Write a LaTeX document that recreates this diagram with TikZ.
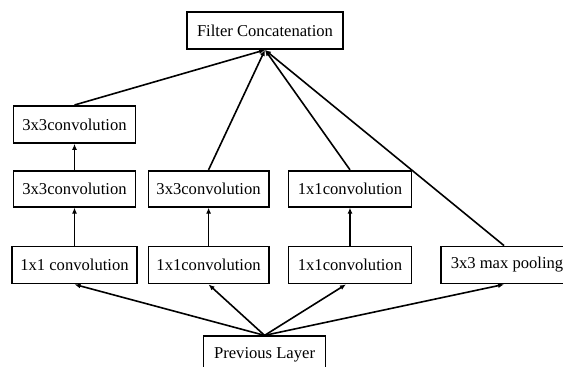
\documentclass[tikz,border=0pt]{standalone}
\usepackage{fontspec}
\setmainfont{Liberation Serif}
\usetikzlibrary{arrows.meta,positioning}

\begin{document}
\begin{tikzpicture}[x=1pt, y=1pt, node distance=10pt,
                    >={Latex[length=6pt,width=5pt]},
                    every node/.append style={align=center},
                    blk/.style={draw, line width=1.8pt, minimum width=122pt, minimum height=37pt,
                                inner xsep=8pt, font=\fontsize{16.6pt}{19pt}\selectfont},
                    con/.style={line width=1.6pt}]
                   \useasboundingbox (0,0) rectangle (563,-367);
                   \clip (0,0) rectangle (563,-367);

                   \node [blk] (c1a) at (74.5,-265) {1x1 convolution};
                   \node [blk, right=10pt of c1a, minimum width=120pt] (c1b) {1x1convolution};
                   \node [blk, right=18pt of c1b, minimum width=123pt] (c1c) {1x1convolution};
                   \node [blk, right=28pt of c1c, inner xsep=9.5pt] (pool) {3x3 max pooling};
                   \node [blk, above=38pt of c1a, minimum height=36pt] (c3b) {3x3convolution};
                   \node [blk, above=26pt of c3b] (c3a) {3x3convolution};
                   \node [blk, above=38pt of c1b, minimum width=120pt, minimum height=36pt] (c3c) {3x3convolution};
                   \node [blk, above=38pt of c1c, minimum width=123pt, minimum height=36pt] (c1d) {1x1convolution};
                   \node [blk, below=51pt of c1b, xshift=56pt] (prev) {Previous Layer};
                   \node [blk, minimum width=156pt] (filter) at (265,-30.5) {Filter Concatenation};

                   \draw[con,->] (prev.north) -- (c1a.south);
                   \draw[con,->] (prev.north) -- (c1b.south);
                   \draw[con,->] (prev.north) -- ([xshift=-4pt]c1c.south);
                   \draw[con,->] (prev.north) -- ([xshift=-3pt]pool.south);

                   \draw[con,->] (c1a) -- (c3b);
                   \draw[con,->] (c3b) -- (c3a);
                   \draw[con,->] (c1b) -- (c3c);
                   \draw[con,->] (c1c) -- (c1d);

                   % outputs into the concatenation
                   \draw[con,->] (c3a.north) -- (filter.south);
                   \draw[con,->] (c3c.north) -- (filter.south);
                   \draw[con,->] (c1d.north) -- (filter.south);
                   \draw[con,->] ([xshift=-3pt]pool.north) -- (filter.south);
\end{tikzpicture}
\end{document}
